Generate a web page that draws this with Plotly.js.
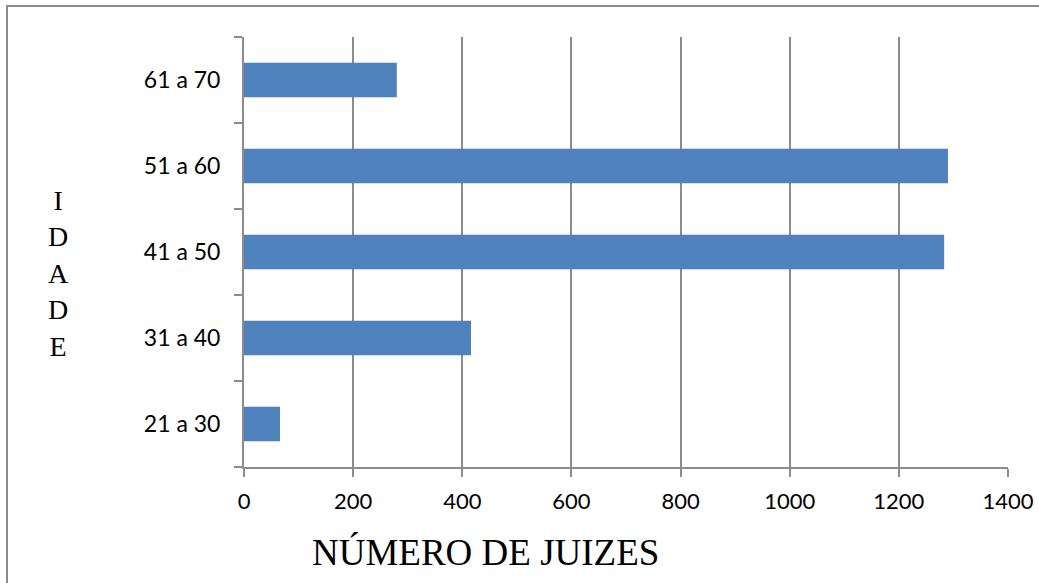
<!DOCTYPE html>
<html>
<head>
<meta charset="utf-8">
<script src="https://cdn.plot.ly/plotly-3.0.1.min.js"></script>
<style>html,body{margin:0;padding:0;background:#fff;}#chart{width:1039px;height:583px;}</style>
</head>
<body>
<div id="chart"></div>
<script>
const categories = ["21 a 30", "31 a 40", "41 a 50", "51 a 60", "61 a 70"];
const judges = [66, 416, 1283, 1290, 280];
const xTickValues = [0, 200, 400, 600, 800, 1000, 1200, 1400];
const chartTitle = "Distribuição dos juízes por faixa etária";
const xTitle = "NÚMERO DE JUIZES";
const yTitleLetters = ["I", "D", "A", "D", "E"];

const gray = "#8c8c8c";
const trace = {
  type: "bar",
  orientation: "h",
  x: judges,
  y: categories,
  marker: { color: "#4f81bd", line: { width: 0 } },
  hoverinfo: "x+y"
};

const layout = {
  width: 1039,
  height: 583,
  margin: { l: 244, r: 31, t: 37, b: 116, pad: 0 },
  paper_bgcolor: "#ffffff",
  plot_bgcolor: "#ffffff",
  showlegend: false,
  bargap: 0.6,
  font: { family: "Lato, 'Open Sans', sans-serif", color: "#000000" },
  xaxis: {
    range: [0, 1400],
    tickvals: xTickValues,
    ticktext: xTickValues.map(String),
    showgrid: true,
    gridcolor: gray,
    gridwidth: 2,
    zeroline: false,
    showline: true,
    linecolor: gray,
    linewidth: 2,
    ticks: "outside",
    ticklen: 8,
    tickwidth: 2,
    tickcolor: gray,
    tickfont: { family: "Lato, sans-serif", size: 22, color: "#000" },
    ticklabelstandoff: 6,
    fixedrange: true
  },
  yaxis: {
    type: "category",
    categoryorder: "array",
    categoryarray: categories,
    range: [-0.5, 4.5],
    showgrid: false,
    zeroline: false,
    showline: true,
    linecolor: gray,
    linewidth: 2,
    ticks: "outside",
    tickson: "boundaries",
    ticklen: 8,
    tickwidth: 2,
    tickcolor: gray,
    tickfont: { family: "Lato, sans-serif", size: 23, color: "#000" },
    ticklabelstandoff: 17,
    fixedrange: true
  },
  shapes: [
    {
      type: "rect", xref: "paper", yref: "paper",
      x0: (7 - 244) / 764, x1: 1.2,
      y0: -0.5, y1: (467 - 6) / 430,
      line: { color: gray, width: 2 },
      fillcolor: "rgba(0,0,0,0)",
      layer: "below"
    }
  ],
  annotations: [
    {
      text: chartTitle,
      xref: "paper", yref: "paper",
      x: (176 - 244) / 764, y: (467 + 14) / 430,
      xanchor: "left", yanchor: "middle",
      showarrow: false,
      font: { family: "'Liberation Sans', Arial, sans-serif", size: 24, color: "#000" }
    },
    {
      text: xTitle,
      xref: "paper", yref: "paper",
      x: (485 - 244) / 764, y: (467 - 552) / 430,
      xanchor: "center", yanchor: "middle",
      showarrow: false,
      font: { family: "'Liberation Serif', 'Times New Roman', serif", size: 37, color: "#000" }
    },
    {
      text: yTitleLetters.join("<br>"),
      xref: "paper", yref: "paper",
      x: (58 - 244) / 764, y: (467 - 273) / 430,
      xanchor: "center", yanchor: "middle",
      showarrow: false,
      font: { family: "'Liberation Serif', 'Times New Roman', serif", size: 28, color: "#000" }
    }
  ]
};

Plotly.newPlot("chart", [trace], layout, { displayModeBar: false, staticPlot: true });
</script>
</body>
</html>
